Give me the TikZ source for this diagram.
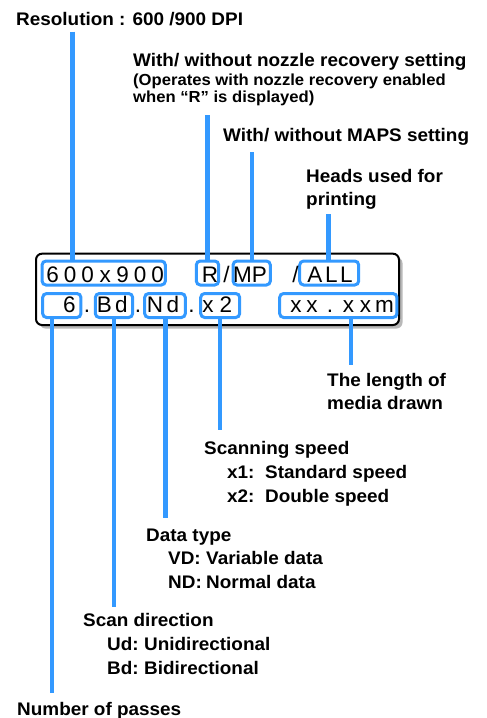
\documentclass[tikz,border=0pt]{standalone}
\usepackage{fontspec}
\setmainfont{Liberation Sans}
\newfontfamily\lblfont{Liberation Sans}[FakeStretch=1.04]
\usetikzlibrary{shadows}
\definecolor{lcdblue}{RGB}{51,153,255}
\newcommand\slsh{/}
\tikzset{
  lbl/.style={anchor=base west, inner sep=0pt, font=\lblfont\bfseries\fontsize{18.2}{22}\selectfont},
  sublbl/.style={anchor=base west, inner sep=0pt, font=\lblfont\bfseries\fontsize{16}{17}\selectfont},
  dchar/.style={anchor=base, inner sep=0pt, font=\fontsize{22.5}{22.5}\selectfont},
  dbox/.style={draw=lcdblue, line width=3pt, rounded corners=4pt, minimum height=24pt, inner sep=0pt},
  lead/.style={draw=lcdblue, line width=4.4pt},
  panel/.style={draw=black, line width=2pt, rounded corners=6pt, fill=white, inner sep=0pt,
    drop shadow={shadow xshift=3.5pt, shadow yshift=-3.5pt, fill=black!28, opacity=1}}
}
\begin{document}
\begin{tikzpicture}[x=1pt,y=-1pt]
\useasboundingbox (0,0) rectangle (487,718);

% display panel
\node[panel, minimum width=363pt, minimum height=71.3pt] (disp) at (217.5,289.35) {};

% blue boxes, row 1
\node[dbox, minimum width=123.3pt] (b600) at (103.7,273) {};
\node[dbox, minimum width=22.4pt]  (bR)   at (207.5,273) {};
\node[dbox, minimum width=37.3pt]  (bMP)  at (251.7,273) {};
\node[dbox, minimum width=59pt]    (bALL) at (329.2,273) {};
% blue boxes, row 2
\node[dbox, minimum width=38.3pt]  (b6)   at (61.8,305.5) {};
\node[dbox, minimum width=37.3pt]  (bBd)  at (114,305.5) {};
\node[dbox, minimum width=40.7pt]  (bNd)  at (165,305.5) {};
\node[dbox, minimum width=39pt]    (bx2)  at (220.2,305.5) {};
\node[dbox, minimum width=117.3pt] (bxx)  at (338.3,305.5) {};

% display characters
\foreach \c/\x [count=\i] in {6/52.7,0/70.2,0/87.7,x/105.2,9/122.7,0/140.2,0/157.7,
    R/210,\slsh/226.5,M/242.5,P/259.5,\slsh/295.5,A/315,L/331.5,L/346.5}
  \node[dchar] (ra\i) at (\x,282) {\c};
\foreach \c/\x [count=\i] in {6/69.5,./87,B/104.5,d/121.5,./138,N/155,d/173,./191.5,
    x/208,2/226,x/296,x/312,./330,x/348.5,x/365.5,m/384.5}
  \node[dchar] (rb\i) at (\x,312) {\c};

% labels
\node[lbl] (res) at (16,25) {Resolution : 600 /900 DPI};
\node[lbl] (noz) at (133,66) {With/ without nozzle recovery setting};
\node[sublbl] (nozA) at (133,85.5) {(Operates with nozzle recovery enabled};
\node[sublbl] (nozB) at (133,102.5) {when “R” is displayed)};
\node[lbl] (maps) at (223,141) {With/ without MAPS setting};
\node[lbl] (headsA) at (306,182) {Heads used for};
\node[lbl] (headsB) at (306,205) {printing};
\node[lbl] (lenA) at (327,386) {The length of};
\node[lbl] (lenB) at (327,409) {media drawn};
\node[lbl] (scanA) at (204,454) {Scanning speed};
\node[lbl] (scanB) at (227,478) {\makebox[38pt][l]{x1:}Standard speed};
\node[lbl] (scanC) at (227,502) {\makebox[38pt][l]{x2:}Double speed};
\node[lbl] (dataA) at (146,541) {Data type};
\node[lbl] (dataB) at (168,564.5) {\makebox[38pt][l]{VD:}Variable data};
\node[lbl] (dataC) at (168,588.3) {\makebox[38pt][l]{ND:}Normal data};
\node[lbl] (dirA) at (83,626.7) {Scan direction};
\node[lbl] (dirB) at (107,650.7) {\makebox[37pt][l]{Ud:}Unidirectional};
\node[lbl] (dirC) at (107,674) {\makebox[37pt][l]{Bd:}Bidirectional};
\node[lbl] (pass) at (17,715) {Number of passes};

% leader lines, top
\coordinate (cRes) at (72.3,31.7);
\coordinate (cR)   at (207.5,115);
\coordinate (cMP)  at (251.7,152);
\coordinate (cALL) at (328.5,214);
\draw[lead] (cRes) -- (cRes |- b600.north);
\draw[lead] (cR) -- (bR.north);
\draw[lead] (cMP) -- (bMP.north);
\draw[lead] (cALL) -- (cALL |- bALL.north);
% leader lines, bottom
\coordinate (c6)  at (52,693);
\coordinate (cBd) at (114,607);
\coordinate (cNd) at (165.5,518);
\coordinate (cx2) at (220.2,430);
\coordinate (cxx) at (350.7,365);
\draw[lead] (c6 |- b6.south) -- (c6);
\draw[lead] (bBd.south) -- (cBd);
\draw[lead] (cNd |- bNd.south) -- (cNd);
\draw[lead] (bx2.south) -- (cx2);
\draw[lead] (cxx |- bxx.south) -- (cxx);
\end{tikzpicture}
\end{document}
